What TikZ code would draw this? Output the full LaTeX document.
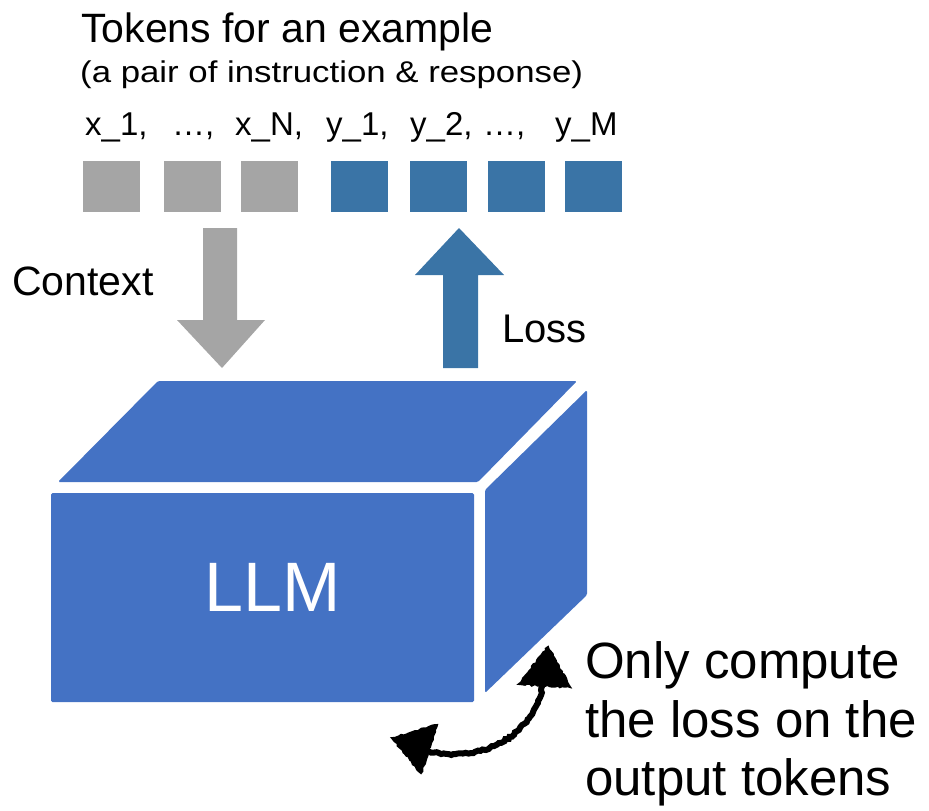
\documentclass[tikz,border=0pt]{standalone}
\usepackage{fontspec}
\setmainfont{Liberation Sans}
\usetikzlibrary{decorations.pathmorphing}
\definecolor{tokgray}{HTML}{A5A5A5}
\definecolor{tokblue}{HTML}{3A74A6}
\definecolor{llmblue}{HTML}{4472C4}
\begin{document}
\begin{tikzpicture}[x=1pt,y=-1pt,
  txt/.style={anchor=base west, inner sep=0pt},
  tok/.style={txt, font=\fontsize{33}{40}\selectfont},
  note/.style={txt, font=\fontsize{51}{60}\selectfont},
  sq/.style={minimum width=57pt, minimum height=51pt, inner sep=0pt, anchor=north west},
  graysq/.style={sq, fill=tokgray},
  bluesq/.style={sq, fill=tokblue},
  rough/.style={decorate, decoration={random steps, segment length=2.5pt, amplitude=0.9pt}}]
\useasboundingbox (0,0) rectangle (929,811);
\pgfmathsetseed{7}

% headings
\node[txt, font=\fontsize{41}{48}\selectfont] (title) at (81,42) {Tokens for an example};
\node[txt, font=\fontsize{30}{36}\selectfont] (sub) at (80,82) {\scalebox{1.16}[1]{(a pair of instruction \& response)}};

% token labels
\node[tok] (l1) at (85,135) {x\_1,};
\node[tok] (l2) at (172,135) {…,};
\node[tok] (l3) at (235,135) {x\_N,};
\node[tok] (l4) at (326,135) {y\_1,};
\node[tok] (l5) at (410,135) {y\_2,};
\node[tok] (l6) at (483,135) {…,};
\node[tok] (l7) at (555,135) {y\_M};

% token squares
\node[graysq] (x1) at (83,161) {};
\node[graysq] (x2) at (164,161) {};
\node[graysq] (x3) at (241,161) {};
\node[bluesq] (y1) at (331,161) {};
\node[bluesq] (y2) at (410,161) {};
\node[bluesq] (y3) at (488,161) {};
\node[bluesq] (y4) at (565,161) {};

% context arrow (down) and loss arrow (up)
\fill[tokgray] (203,228) -- (237,228) -- (237,320) -- (265,320) -- (222,368) -- (177,320) -- (203,320) -- cycle;
\node[txt, font=\fontsize{41}{48}\selectfont] (ctx) at (12,295) {Context};
\fill[tokblue] (443,368) -- (478,368) -- (478,275) -- (504,275) -- (459,228) -- (415,275) -- (443,275) -- cycle;
\node[txt, font=\fontsize{40}{48}\selectfont] (loss) at (502,342) {Loss};

% the LLM block
\fill[llmblue, rounded corners=1.5pt] (158,381) -- (577,381) -- (478,482) -- (58,482) -- cycle;
\fill[llmblue, rounded corners=1.5pt] (51,493) rectangle (474,702);
\fill[llmblue, rounded corners=1.5pt] (485,490) -- (587,390) -- (587,595) -- (485,693) -- cycle;
\node[anchor=base, inner sep=0pt, text=white, font=\fontsize{70}{84}\selectfont] (llm) at (273,611) {LLM};

% note
\node[note] (n1) at (585,678) {Only compute};
\node[note] (n2) at (585,737) {the loss on the};
\node[note] (n3) at (585,795) {output tokens};

% hand-drawn double arrow
\coordinate (la) at (426,751);
\coordinate (ua) at (543,684);
\draw[line width=6pt, rough] (la) .. controls (480,764) and (533,738) .. (ua);
\filldraw[line width=2pt, rough] (392,738) -- (437,725) -- (421,773) -- cycle;
\filldraw[line width=2pt, rough] (548,647) -- (570,687) -- (519,684) -- cycle;
\end{tikzpicture}
\end{document}
